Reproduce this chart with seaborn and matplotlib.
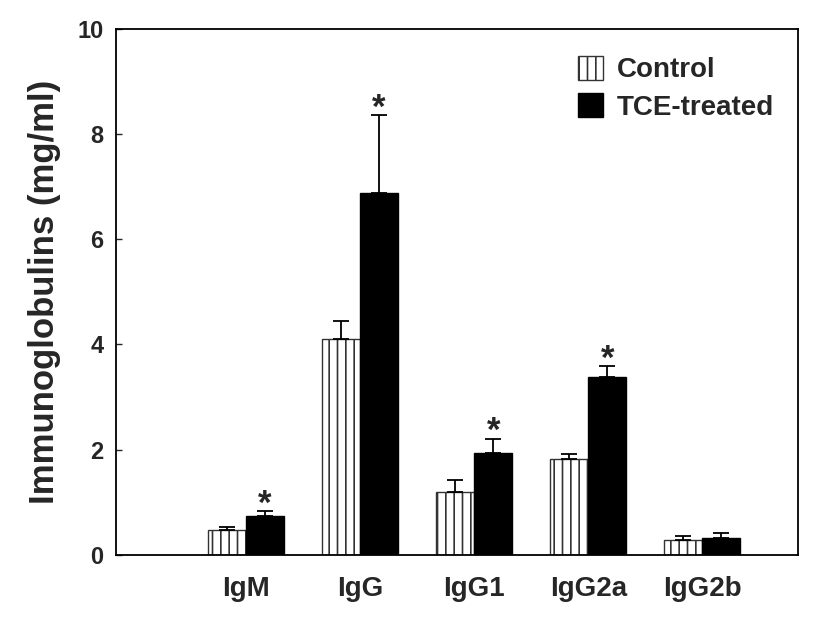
import matplotlib
matplotlib.use("Agg")
import matplotlib.pyplot as plt
import seaborn as sns
import numpy as np
import pandas as pd

# values (mg/ml), mean and upper SE
isotypes = ["IgM", "IgG", "IgG1", "IgG2a", "IgG2b"]
groups = ["Control", "TCE-treated"]
control_mean = [0.47, 4.10, 1.20, 1.82, 0.28]
control_err = [0.05, 0.34, 0.22, 0.09, 0.08]
tce_mean = [0.73, 6.88, 1.93, 3.38, 0.32]
tce_err = [0.10, 1.49, 0.28, 0.21, 0.10]
significant = [True, True, True, True, False]

df = pd.DataFrame({
    "Isotype": isotypes * 2,
    "Group": [groups[0]] * 5 + [groups[1]] * 5,
    "Value": control_mean + tce_mean,
})

sns.set_style("white")
plt.rcParams["font.family"] = ["Liberation Sans", "DejaVu Sans"]
plt.rcParams["font.weight"] = "bold"
plt.rcParams["hatch.linewidth"] = 1.2
plt.rcParams["hatch.color"] = "#333333"

fig = plt.figure(figsize=(8.28, 6.29), dpi=100)
ax = fig.add_axes([0.140, 0.118, 0.824, 0.836])

sns.barplot(data=df, x="Isotype", y="Value", hue="Group", order=isotypes,
            hue_order=groups, palette=["white", "black"], width=0.667,
            errorbar=None, edgecolor="black", linewidth=1.0, ax=ax,
            legend=False)

ctrl_bars, tce_bars = ax.containers[0], ax.containers[1]
for p in ctrl_bars:
    p.set_hatch("||")
    p.set_edgecolor("#333333")

# one-sided error bars on top of each bar
for bars, means, errs in [(ctrl_bars, control_mean, control_err),
                          (tce_bars, tce_mean, tce_err)]:
    xs = [p.get_x() + p.get_width() / 2 for p in bars]
    ax.errorbar(xs, means, yerr=[np.zeros(len(errs)), errs], fmt="none",
                ecolor="black", elinewidth=1.3, capsize=6, capthick=1.3)

# asterisks above significant TCE bars
for p, m, e, sig in zip(tce_bars, tce_mean, tce_err, significant):
    if sig:
        ax.annotate("*", (p.get_x() + p.get_width() / 2, m + e),
                    xytext=(0, -7), textcoords="offset points",
                    ha="center", va="bottom", fontsize=25, fontweight="bold")

ax.set_xlim(-1.14, 4.84)
ax.set_ylim(0, 10)
ax.set_yticks([0, 2, 4, 6, 8, 10])
ax.set_xlabel("")
ax.set_ylabel("Immunoglobulins (mg/ml)", fontsize=25, fontweight="bold",
              labelpad=12)
ax.tick_params(axis="y", direction="in", length=4, width=1, pad=9,
               labelsize=17, left=True)
ax.tick_params(axis="x", length=0, pad=15, labelsize=20)
for s in ax.spines.values():
    s.set_visible(True)
    s.set_color("black")
    s.set_linewidth(1.3)

ax.legend(handles=[ctrl_bars[0], tce_bars[0]], labels=groups, loc="upper left",
          bbox_to_anchor=(0.677, 0.949), frameon=False, fontsize=20,
          handlelength=0.9, handleheight=0.95, handletextpad=0.5,
          labelspacing=0.35, borderpad=0, borderaxespad=0)

fig.savefig("out.png", dpi=100)
